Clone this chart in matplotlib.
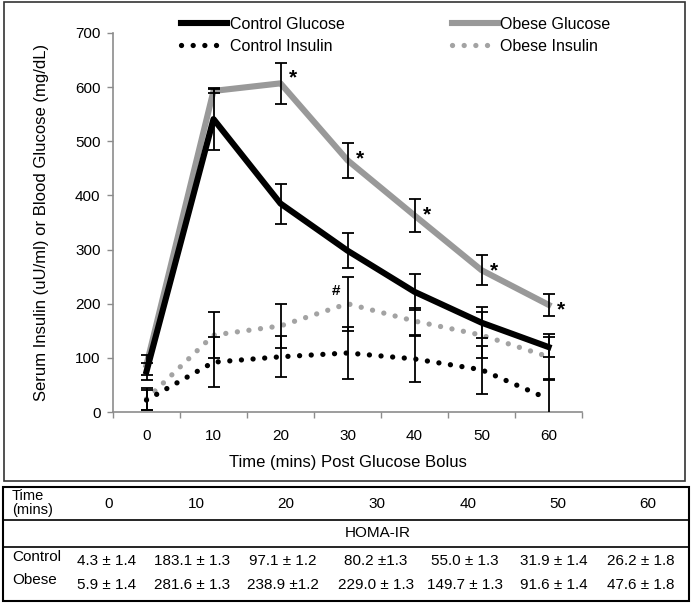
import numpy as np
import matplotlib.pyplot as plt
from matplotlib.lines import Line2D
from matplotlib.patches import Rectangle

plt.rcParams['font.family'] = ['Liberation Sans', 'DejaVu Sans']

# data
times = ['0', '10', '20', '30', '40', '50', '60']
control_glucose = [75, 541, 385, 298, 222, 165, 120]
control_glucose_err = [15, 58, 37, 32, 33, 29, 18]
obese_glucose = [87, 593, 607, 465, 363, 262, 198]
obese_glucose_err = [18, 4, 38, 32, 30, 28, 20]
control_insulin = [22, 92, 102, 109, 98, 78, 24]
control_insulin_err = [18, 46, 38, 48, 43, 44, 37]
obese_insulin = [24, 142, 159, 200, 168, 142, 102]
obese_insulin_err = [21, 43, 41, 50, 25, 43, 42]
glucose_sig = ['', '', '*', '*', '*', '*', '*']
insulin_sig = ['', '', '', '#', '', '', '']

homa_control = ['4.3 ± 1.4', '183.1 ± 1.3', '97.1 ± 1.2', '80.2 ±1.3',
                '55.0 ± 1.3', '31.9 ± 1.4', '26.2 ± 1.8']
homa_obese = ['5.9 ± 1.4', '281.6 ± 1.3', '238.9 ±1.2', '229.0 ± 1.3',
              '149.7 ± 1.3', '91.6 ± 1.4', '47.6 ± 1.8']

W, H = 692, 605
GRAY = '#999999'
AXGRAY = '#8c8c8c'


def fx(px):
    return px / W


def fy(py):
    return 1 - py / H


fig = plt.figure(figsize=(W / 100, H / 100), dpi=100)
ax = fig.add_axes([fx(113), fy(412), fx(582) - fx(113), fy(33) - fy(412)])

x = np.arange(len(times))

ax.plot(x, control_glucose, color='black', lw=4.4, solid_joinstyle='round',
        label='Control Glucose', zorder=3)
ax.plot(x, obese_glucose, color=GRAY, lw=4.4, solid_joinstyle='round',
        label='Obese Glucose', zorder=2)
dots = (0, (0.01, 2.2))
ax.plot(x, control_insulin, color='black', lw=3.8, ls=dots,
        dash_capstyle='round', label='Control Insulin', zorder=3)
ax.plot(x, obese_insulin, color='#a3a3a3', lw=3.8, ls=dots,
        dash_capstyle='round', label='Obese Insulin', zorder=2)

for vals, errs in [(control_glucose, control_glucose_err),
                   (obese_glucose, obese_glucose_err),
                   (control_insulin, control_insulin_err),
                   (obese_insulin, obese_insulin_err)]:
    ax.errorbar(x, vals, yerr=errs, fmt='none', ecolor='black',
                elinewidth=1.3, capsize=4.5, capthick=1.3, zorder=4)

for i, s in enumerate(glucose_sig):
    if s:
        ax.annotate(s, xy=(x[i], obese_glucose[i] + obese_glucose_err[i]),
                    xytext=(12, -21), textcoords='offset pixels',
                    ha='center', va='baseline', fontsize=15, fontweight='bold')
for i, s in enumerate(insulin_sig):
    if s:
        ax.annotate(s, xy=(x[i], obese_insulin[i] + obese_insulin_err[i]),
                    xytext=(-11, -18), textcoords='offset pixels',
                    ha='center', va='baseline', fontsize=11, fontweight='bold')

ax.set_xlim(-0.5, len(times) - 0.5)
ax.set_ylim(0, 700)
ax.set_yticks(range(0, 701, 100))
ax.set_xticks(x)
ax.set_xticklabels(times)
ax.set_xticks(np.arange(-0.5, len(times), 1), minor=True)
ax.tick_params(axis='x', which='major', length=0, pad=12, labelsize=11)
ax.tick_params(axis='x', which='minor', length=4, color=AXGRAY, width=1)
ax.tick_params(axis='y', length=4, color=AXGRAY, width=1, pad=5, labelsize=11)
for side in ['top', 'right']:
    ax.spines[side].set_visible(False)
for side in ['left', 'bottom']:
    ax.spines[side].set_color(AXGRAY)
    ax.spines[side].set_linewidth(1.2)

ax.set_xlabel('Time (mins) Post Glucose Bolus', fontsize=12, labelpad=9)
ax.set_ylabel('Serum Insulin (uU/ml) or Blood Glucose (mg/dL)', fontsize=12,
              labelpad=19)

h, l = ax.get_legend_handles_labels()
order = [0, 2, 1, 3]
fig.legend([h[k] for k in order], [l[k] for k in order], ncol=2,
           loc='upper left', bbox_to_anchor=(fx(181), fy(17)), frameon=False,
           fontsize=11.5, handlelength=2.9, handletextpad=0.15,
           columnspacing=6.7, labelspacing=0.42, borderpad=0, borderaxespad=0)

# chart frame
fig.patches.append(Rectangle((fx(4), fy(481)), fx(685) - fx(4), fy(2) - fy(481),
                             transform=fig.transFigure, fill=False,
                             edgecolor='#333333', lw=1.2))

# HOMA-IR table below the chart
fig.patches.append(Rectangle((fx(3), fy(601)), fx(689) - fx(3), fy(487) - fy(601),
                             transform=fig.transFigure, fill=False,
                             edgecolor='black', lw=1.5))
for yy in [520, 547]:
    fig.add_artist(Line2D([fx(3), fx(689)], [fy(yy), fy(yy)],
                          transform=fig.transFigure, color='black', lw=1.2))

head_x = [109, 196, 286, 377, 468, 558, 648]
val_x = [107, 192, 283, 376, 465, 554, 641]
fig.text(fx(12), fy(503), 'Time\n(mins)', fontsize=10.5, va='center', ha='left',
         linespacing=0.95)
for cx, t in zip(head_x, times):
    fig.text(fx(cx), fy(504), t, fontsize=11, ha='center', va='center')
fig.text(fx(378), fy(533), 'HOMA-IR', fontsize=11, ha='center', va='center')
fig.text(fx(12), fy(557), 'Control', fontsize=11, ha='left', va='center')
fig.text(fx(12), fy(580), 'Obese', fontsize=11, ha='left', va='center')
for cx, c, o in zip(val_x, homa_control, homa_obese):
    fig.text(fx(cx), fy(561), c, fontsize=11, ha='center', va='center')
    fig.text(fx(cx), fy(585), o, fontsize=11, ha='center', va='center')

fig.savefig('out.png', dpi=100)
